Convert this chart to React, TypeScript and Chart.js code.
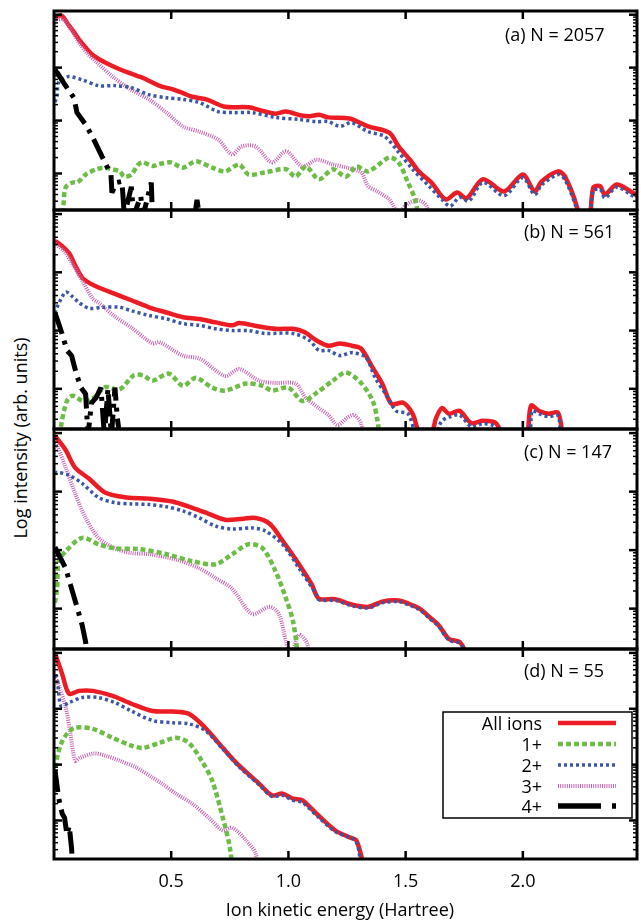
import React, { useEffect, useRef } from 'react';
import { Chart, registerables } from 'chart.js';
Chart.register(...registerables);

type Pt = [number, number];

// ---- axis settings (energy in Hartree, log10 intensity) ----
const X_MAX = 2.487;
const Y_MIN = -3.69;
const Y_MAX = 0.07;
const xTickValues = [0.5, 1.0, 1.5, 2.0];
const xTickLabels = ['0.5', '1.0', '1.5', '2.0'];
const seriesNames = ['All ions', '1+', '2+', '3+', '4+'];
const panelLabels = ['(a) N = 2057', '(b) N = 561', '(c) N = 147', '(d) N = 55'];
const xTitle = 'Ion kinetic energy (Hartree)';
const yTitle = 'Log intensity (arb. units)';

// ---- panel (a) N = 2057 ----
const ionsA: Pt[] = [[0.004,-0.06],[0.015,-0.03],[0.034,-0.02],[0.06,-0.18],[0.085,-0.33],[0.107,-0.47],[0.135,-0.62],[0.163,-0.75],[0.2,-0.86],[0.235,-0.94],[0.28,-1.03],[0.32,-1.10],[0.377,-1.19],[0.42,-1.28],[0.46,-1.36],[0.50,-1.40],[0.55,-1.48],[0.59,-1.55],[0.65,-1.60],[0.73,-1.74],[0.83,-1.75],[0.90,-1.83],[0.945,-1.87],[0.99,-1.83],[1.05,-1.90],[1.09,-1.92],[1.13,-1.89],[1.17,-1.94],[1.26,-1.96],[1.34,-2.11],[1.43,-2.23],[1.47,-2.49],[1.52,-2.75],[1.56,-2.98],[1.61,-3.17],[1.67,-3.49],[1.72,-3.36],[1.76,-3.47],[1.83,-3.11],[1.92,-3.34],[2.00,-3.02],[2.05,-3.34],[2.08,-3.15],[2.15,-2.96],[2.18,-3.06],[2.23,-3.62],[2.25,-4.1],[2.28,-4.1],[2.30,-3.27],[2.33,-3.24],[2.35,-3.40],[2.40,-3.21],[2.46,-3.34],[2.49,-3.43]];
const plus1A: Pt[] = [[0.03,-4.2],[0.04,-3.62],[0.05,-3.26],[0.08,-3.17],[0.10,-3.17],[0.135,-3.02],[0.18,-2.92],[0.22,-2.89],[0.245,-2.92],[0.28,-2.96],[0.30,-3.06],[0.33,-3.02],[0.36,-2.83],[0.38,-2.79],[0.42,-2.86],[0.45,-2.82],[0.50,-2.79],[0.55,-2.89],[0.605,-2.77],[0.675,-2.89],[0.73,-2.96],[0.79,-2.83],[0.83,-3.02],[0.90,-2.98],[0.99,-2.92],[1.03,-3.06],[1.075,-2.87],[1.13,-3.11],[1.19,-2.92],[1.245,-3.06],[1.29,-2.87],[1.34,-2.96],[1.43,-2.70],[1.47,-2.79],[1.51,-3.17],[1.54,-3.49],[1.57,-4.2]];
const plus2A: Pt[] = [[0.004,-1.65],[0.013,-1.55],[0.02,-1.28],[0.06,-1.17],[0.12,-1.23],[0.19,-1.34],[0.26,-1.34],[0.33,-1.38],[0.405,-1.51],[0.48,-1.57],[0.55,-1.60],[0.62,-1.66],[0.70,-1.83],[0.76,-1.85],[0.845,-1.85],[0.945,-1.94],[1.045,-1.98],[1.12,-2.02],[1.17,-2.02],[1.22,-2.11],[1.27,-2.04],[1.34,-2.21],[1.41,-2.30],[1.47,-2.60],[1.53,-2.92],[1.60,-3.24],[1.655,-3.49],[1.69,-3.62],[1.73,-3.45],[1.77,-3.52],[1.83,-3.17],[1.92,-3.42],[2.00,-3.08],[2.05,-3.40],[2.08,-3.22],[2.15,-3.02],[2.18,-3.12],[2.23,-3.68],[2.25,-4.2],[2.28,-4.2],[2.30,-3.33],[2.33,-3.30],[2.35,-3.46],[2.40,-3.26],[2.46,-3.40],[2.49,-3.48]];
const plus3A: Pt[] = [[0.004,-0.06],[0.013,-0.09],[0.035,-0.08],[0.05,-0.13],[0.08,-0.33],[0.107,-0.53],[0.14,-0.72],[0.18,-0.89],[0.25,-1.17],[0.33,-1.42],[0.405,-1.60],[0.48,-1.85],[0.55,-2.11],[0.62,-2.21],[0.70,-2.36],[0.76,-2.64],[0.80,-2.49],[0.86,-2.49],[0.93,-2.79],[0.99,-2.58],[1.06,-2.87],[1.12,-2.74],[1.19,-2.83],[1.25,-2.89],[1.31,-2.98],[1.34,-3.24],[1.38,-3.34],[1.43,-3.49],[1.47,-3.75],[1.50,-3.60],[1.55,-3.50],[1.59,-3.62],[1.62,-4.2]];
const plus4A: Pt[] = [[0.004,-1.05],[0.013,-1.09],[0.04,-1.28],[0.085,-1.57],[0.098,-1.85],[0.136,-2.08],[0.17,-2.36],[0.205,-2.68],[0.226,-2.87],[0.243,-3.02],[0.247,-3.36],[0.268,-3.17],[0.29,-3.15],[0.30,-3.8],[0.33,-3.25],[0.34,-3.8],[0.37,-3.43],[0.38,-3.8],[0.415,-3.17],[0.42,-3.8],[0.60,-3.8],[0.61,-3.5],[0.62,-3.8]];

// ---- panel (b) N = 561 ----
const ionsB: Pt[] = [[0.004,-0.47],[0.013,-0.48],[0.035,-0.55],[0.064,-0.67],[0.09,-0.88],[0.12,-1.09],[0.15,-1.18],[0.19,-1.26],[0.26,-1.37],[0.33,-1.48],[0.405,-1.60],[0.48,-1.69],[0.55,-1.77],[0.62,-1.80],[0.69,-1.86],[0.76,-1.91],[0.79,-1.87],[0.875,-1.93],[0.945,-1.97],[1.02,-1.97],[1.07,-2.03],[1.12,-2.17],[1.17,-2.26],[1.22,-2.22],[1.27,-2.26],[1.31,-2.31],[1.36,-2.64],[1.40,-2.91],[1.44,-3.26],[1.49,-3.24],[1.53,-3.43],[1.56,-3.75],[1.61,-3.75],[1.63,-3.50],[1.655,-3.33],[1.685,-3.43],[1.73,-3.38],[1.78,-3.59],[1.83,-3.55],[1.885,-3.59],[1.93,-3.9],[2.01,-3.9],[2.035,-3.29],[2.07,-3.38],[2.11,-3.43],[2.15,-3.41],[2.19,-3.9],[2.49,-3.9]];
const plus1B: Pt[] = [[0.015,-4.2],[0.03,-3.64],[0.055,-3.21],[0.08,-3.12],[0.125,-3.21],[0.17,-3.15],[0.22,-2.97],[0.28,-3.01],[0.34,-2.77],[0.38,-2.77],[0.42,-2.86],[0.49,-2.74],[0.55,-2.95],[0.605,-2.81],[0.675,-2.98],[0.73,-3.03],[0.82,-2.91],[0.89,-2.95],[0.93,-3.03],[1.00,-2.98],[1.06,-3.21],[1.12,-3.07],[1.19,-2.86],[1.245,-2.72],[1.31,-2.90],[1.36,-3.21],[1.38,-3.55],[1.40,-4.2]];
const plus2B: Pt[] = [[0.004,-1.70],[0.013,-1.60],[0.05,-1.34],[0.08,-1.42],[0.107,-1.52],[0.15,-1.62],[0.205,-1.60],[0.28,-1.60],[0.33,-1.66],[0.405,-1.74],[0.48,-1.80],[0.55,-1.88],[0.62,-1.91],[0.69,-1.97],[0.76,-2.00],[0.83,-2.00],[0.90,-2.05],[1.02,-2.05],[1.09,-2.17],[1.13,-2.34],[1.17,-2.34],[1.22,-2.43],[1.27,-2.38],[1.33,-2.46],[1.37,-2.81],[1.415,-3.09],[1.46,-3.38],[1.51,-3.43],[1.55,-3.8],[1.62,-3.8],[1.655,-3.55],[1.69,-3.48],[1.73,-3.45],[1.78,-3.65],[1.83,-3.60],[1.88,-3.65],[1.92,-4.0],[2.02,-4.0],[2.04,-3.38],[2.07,-3.43],[2.11,-3.48],[2.15,-3.46],[2.18,-4.0],[2.49,-4.2]];
const plus3B: Pt[] = [[0.004,-0.50],[0.013,-0.53],[0.05,-0.67],[0.085,-0.90],[0.12,-1.14],[0.165,-1.45],[0.19,-1.52],[0.26,-1.76],[0.33,-1.95],[0.42,-2.22],[0.45,-2.20],[0.55,-2.43],[0.62,-2.48],[0.73,-2.78],[0.79,-2.66],[0.875,-2.86],[0.945,-2.90],[1.03,-2.91],[1.075,-3.16],[1.13,-3.33],[1.17,-3.45],[1.21,-3.62],[1.25,-3.50],[1.28,-3.45],[1.31,-3.60],[1.34,-4.2]];
const plus4B: Pt[] = [[0.004,-1.70],[0.013,-1.80],[0.034,-2.05],[0.055,-2.34],[0.075,-2.43],[0.095,-2.74],[0.115,-2.98],[0.135,-3.09],[0.145,-3.8],[0.16,-3.24],[0.18,-3.15],[0.20,-2.98],[0.215,-3.8],[0.23,-3.0],[0.245,-3.8],[0.26,-2.98],[0.27,-3.5],[0.28,-3.8]];

// ---- panel (c) N = 147 ----
const ionsC: Pt[] = [[0.004,-0.05],[0.013,-0.09],[0.05,-0.29],[0.09,-0.59],[0.15,-0.78],[0.22,-1.02],[0.31,-1.10],[0.405,-1.12],[0.505,-1.17],[0.59,-1.28],[0.66,-1.38],[0.73,-1.48],[0.79,-1.47],[0.86,-1.45],[0.92,-1.55],[0.975,-1.84],[1.045,-2.24],[1.10,-2.59],[1.13,-2.83],[1.20,-2.84],[1.27,-2.93],[1.34,-2.97],[1.40,-2.88],[1.47,-2.86],[1.51,-2.91],[1.56,-3.00],[1.60,-3.14],[1.64,-3.28],[1.685,-3.52],[1.73,-3.57],[1.76,-3.8],[1.78,-4.2]];
const plus1C: Pt[] = [[0.004,-2.9],[0.013,-2.66],[0.02,-2.19],[0.05,-2.02],[0.12,-1.79],[0.19,-1.90],[0.26,-1.97],[0.36,-1.98],[0.48,-2.07],[0.59,-2.19],[0.69,-2.24],[0.76,-2.07],[0.83,-1.90],[0.89,-1.97],[0.945,-2.36],[0.99,-2.83],[1.02,-3.22],[1.04,-3.8],[1.05,-4.2]];
const plus2C: Pt[] = [[0.004,-0.70],[0.013,-0.67],[0.064,-0.72],[0.12,-0.86],[0.19,-1.10],[0.26,-1.19],[0.33,-1.21],[0.405,-1.22],[0.48,-1.26],[0.55,-1.33],[0.62,-1.45],[0.69,-1.59],[0.76,-1.64],[0.845,-1.62],[0.90,-1.67],[0.975,-1.90],[1.045,-2.31],[1.12,-2.76],[1.13,-2.85],[1.20,-2.86],[1.27,-2.95],[1.34,-2.99],[1.40,-2.90],[1.47,-2.88],[1.51,-2.93],[1.56,-3.02],[1.60,-3.16],[1.64,-3.30],[1.685,-3.54],[1.73,-3.59],[1.76,-3.8],[1.78,-4.2]];
const plus3C: Pt[] = [[0.004,-0.17],[0.013,-0.21],[0.05,-0.59],[0.09,-1.03],[0.135,-1.45],[0.19,-1.79],[0.26,-1.97],[0.33,-2.05],[0.405,-2.07],[0.52,-2.16],[0.62,-2.31],[0.69,-2.48],[0.76,-2.66],[0.845,-3.09],[0.92,-2.97],[0.96,-3.10],[0.99,-3.57],[1.01,-3.8],[1.045,-3.45],[1.08,-3.60],[1.10,-4.2]];
const plus4C: Pt[] = [[0.004,-1.95],[0.013,-2.02],[0.05,-2.31],[0.07,-2.59],[0.10,-3.00],[0.12,-3.28],[0.135,-3.57],[0.145,-4.0]];

// ---- panel (d) N = 55 ----
const ionsD: Pt[] = [[0.003,0.0],[0.008,-0.05],[0.035,-0.38],[0.064,-0.73],[0.107,-0.68],[0.165,-0.68],[0.25,-0.77],[0.33,-0.91],[0.42,-1.04],[0.505,-1.05],[0.575,-1.09],[0.645,-1.34],[0.72,-1.70],[0.79,-2.02],[0.875,-2.34],[0.93,-2.55],[0.975,-2.52],[1.02,-2.61],[1.06,-2.64],[1.12,-2.88],[1.20,-3.18],[1.26,-3.30],[1.29,-3.36],[1.32,-3.8],[1.34,-4.2]];
const plus1D: Pt[] = [[0.004,-2.2],[0.013,-1.88],[0.03,-1.63],[0.055,-1.45],[0.09,-1.34],[0.165,-1.36],[0.25,-1.52],[0.33,-1.66],[0.38,-1.70],[0.45,-1.61],[0.52,-1.52],[0.575,-1.61],[0.63,-1.93],[0.675,-2.29],[0.72,-2.95],[0.75,-3.48],[0.77,-4.2]];
const plus2D: Pt[] = [[0.004,-0.40],[0.013,-0.45],[0.03,-0.95],[0.064,-0.89],[0.12,-0.80],[0.19,-0.80],[0.26,-0.89],[0.33,-1.04],[0.42,-1.21],[0.505,-1.25],[0.575,-1.27],[0.645,-1.39],[0.72,-1.72],[0.79,-2.04],[0.875,-2.36],[0.93,-2.57],[0.975,-2.55],[1.02,-2.64],[1.06,-2.68],[1.12,-2.91],[1.20,-3.20],[1.26,-3.30],[1.29,-3.38],[1.31,-3.8],[1.33,-4.2]];
const plus3D: Pt[] = [[0.004,-0.45],[0.013,-0.50],[0.05,-0.98],[0.07,-1.45],[0.09,-1.93],[0.11,-1.88],[0.17,-1.80],[0.22,-1.84],[0.28,-1.93],[0.35,-2.05],[0.42,-2.23],[0.46,-2.34],[0.52,-2.52],[0.59,-2.70],[0.66,-2.95],[0.72,-3.18],[0.76,-3.13],[0.82,-3.36],[0.86,-3.59],[0.88,-4.2]];
const plus4D: Pt[] = [[0.004,-2.1],[0.02,-2.6],[0.035,-2.88],[0.045,-2.95],[0.055,-3.25],[0.065,-3.1],[0.075,-3.5],[0.085,-4.2]];

const panelSeries: Pt[][][] = [
  [ionsA, plus1A, plus2A, plus3A, plus4A],
  [ionsB, plus1B, plus2B, plus3B, plus4B],
  [ionsC, plus1C, plus2C, plus3C, plus4C],
  [ionsD, plus1D, plus2D, plus3D, plus4D],
];

// ---- styles ----
const FONT = '"Open Sans", "Noto Sans", sans-serif';
const seriesStyles = [
  { color: '#ec1c24', width: 4.5, dash: [] as number[], tension: 0.3, join: 'round' },
  { color: '#6cbd45', width: 4.5, dash: [5, 3], tension: 0.3, join: 'round' },
  { color: '#3a56a5', width: 3.5, dash: [3, 3], tension: 0.3, join: 'round' },
  { color: '#c763b4', width: 4, dash: [1, 1.2], tension: 0.3, join: 'round' },
  { color: '#000000', width: 5, dash: [22, 7, 4, 7], tension: 0, join: 'bevel' },
];
const drawOrder = [4, 2, 1, 3, 0]; // first is drawn on top

const PLOT_LEFT = 54;
const PLOT_RIGHT = 637;
const panelEdges = [11, 210, 429, 649, 859];
const PAD = 10;

const framePlugin = {
  id: 'frame',
  afterDatasetsDraw(chart: any, _args: any, opts: any) {
    const { ctx, chartArea: a, scales } = chart;
    const xs = scales.x;
    const ys = scales.y;
    const seg = (x1: number, y1: number, x2: number, y2: number) => {
      ctx.beginPath();
      ctx.moveTo(x1, y1);
      ctx.lineTo(x2, y2);
      ctx.stroke();
    };
    ctx.save();
    ctx.strokeStyle = '#000';
    ctx.setLineDash([]);
    // log ticks on y
    for (let e = Math.floor(Y_MIN); e <= Math.ceil(Y_MAX); e++) {
      for (let m = 1; m <= 9; m++) {
        const v = e + Math.log10(m);
        if (v < Y_MIN || v > Y_MAX) continue;
        const py = ys.getPixelForValue(v);
        const len = m === 1 ? 8 : 4;
        ctx.lineWidth = m === 1 ? 2.5 : 1.5;
        seg(a.left, py, a.left + len, py);
        seg(a.right, py, a.right - len, py);
      }
    }
    // x ticks
    ctx.lineWidth = 2.5;
    for (const v of xTickValues) {
      const px = xs.getPixelForValue(v);
      seg(px, a.top, px, a.top + 8);
      seg(px, a.bottom, px, a.bottom - 8);
    }
    // frame
    ctx.lineWidth = 3;
    ctx.strokeRect(a.left, a.top, a.right - a.left, a.bottom - a.top);

    ctx.fillStyle = '#000';
    if (opts && opts.showXLabels) {
      ctx.font = `18px ${FONT}`;
      ctx.textAlign = 'center';
      ctx.textBaseline = 'alphabetic';
      xTickValues.forEach((v, i) => {
        ctx.fillText(xTickLabels[i], xs.getPixelForValue(v), a.bottom + 28);
      });
    }
    if (opts && opts.legend) {
      const bw = 189, bh = 106;
      const bx = a.right - 194;
      const by = a.top + 63;
      ctx.fillStyle = '#fff';
      ctx.fillRect(bx, by, bw, bh);
      ctx.lineWidth = 1.5;
      ctx.strokeStyle = '#000';
      ctx.strokeRect(bx, by, bw, bh);
      const rows = [11, 32, 53, 74, 94];
      ctx.font = `18px ${FONT}`;
      ctx.textAlign = 'right';
      ctx.textBaseline = 'alphabetic';
      ctx.fillStyle = '#000';
      seriesNames.forEach((name, i) => {
        const cy = by + rows[i];
        ctx.fillText(name, bx + 99, cy + 6.5);
        const st = seriesStyles[i];
        ctx.strokeStyle = st.color;
        ctx.lineWidth = i === 4 ? 5.5 : st.width;
        ctx.lineCap = 'butt';
        ctx.setLineDash(i === 4 ? [43, 11, 4, 20] : st.dash);
        seg(bx + 115, cy, bx + 173, cy);
        ctx.setLineDash([]);
      });
    }
    ctx.restore();
  },
};

function Panel({ index }: { index: number }) {
  const ref = useRef<HTMLCanvasElement | null>(null);
  const top = panelEdges[index];
  const bottom = panelEdges[index + 1];
  const isLast = index === panelSeries.length - 1;
  const extraBottom = isLast ? 40 : 0;
  const width = PLOT_RIGHT - PLOT_LEFT + 2 * PAD;
  const height = bottom - top + 2 * PAD + extraBottom;

  useEffect(() => {
    if (!ref.current) return;
    const series = panelSeries[index];
    const chart = new Chart(ref.current, {
      type: 'line',
      data: {
        datasets: drawOrder.map((si) => ({
          label: seriesNames[si],
          data: series[si].map(([x, y]) => ({ x, y })),
          borderColor: seriesStyles[si].color,
          borderWidth: seriesStyles[si].width,
          borderDash: seriesStyles[si].dash,
          borderJoinStyle: seriesStyles[si].join,
          tension: seriesStyles[si].tension,
          pointRadius: 0,
          fill: false,
          clip: 0,
        })),
      },
      options: {
        animation: false,
        responsive: false,
        maintainAspectRatio: false,
        devicePixelRatio: 1,
        events: [],
        layout: { padding: { left: PAD, right: PAD, top: PAD, bottom: PAD + extraBottom } },
        plugins: {
          legend: { display: false },
          tooltip: { enabled: false },
          frame: { showXLabels: isLast, legend: isLast },
        } as any,
        scales: {
          x: { type: 'linear', min: 0, max: X_MAX, display: false },
          y: { type: 'linear', min: Y_MIN, max: Y_MAX, display: false },
        },
      },
      plugins: [framePlugin],
    } as any);
    return () => chart.destroy();
  }, [index]);

  return (
    <canvas
      ref={ref}
      width={width}
      height={height}
      style={{ position: 'absolute', left: PLOT_LEFT - PAD, top: top - PAD, width, height }}
    />
  );
}

const labelPos = [
  { left: 505, top: 22 },
  { left: 524, top: 219 },
  { left: 524, top: 439 },
  { left: 524, top: 658 },
];

export default function App() {
  const textStyle: React.CSSProperties = {
    position: 'absolute',
    fontFamily: FONT,
    fontSize: 18,
    lineHeight: '24px',
    color: '#000',
    whiteSpace: 'nowrap',
  };
  return (
    <div style={{ position: 'absolute', left: 0, top: 0, width: 641, height: 923, background: '#fff', overflow: 'hidden' }}>
      {panelSeries.map((_, i) => (
        <Panel key={i} index={i} />
      ))}
      {panelLabels.map((t, i) => (
        <div key={t} style={{ ...textStyle, left: labelPos[i].left, top: labelPos[i].top }}>
          {t}
        </div>
      ))}
      <div style={{ ...textStyle, left: 190, top: 897, width: 300, textAlign: 'center' }}>{xTitle}</div>
      <div
        style={{
          ...textStyle,
          left: -110,
          top: 426,
          width: 260,
          height: 24,
          textAlign: 'center',
          transform: 'rotate(-90deg)',
          transformOrigin: '130px 12px',
        }}
      >
        {yTitle}
      </div>
    </div>
  );
}
